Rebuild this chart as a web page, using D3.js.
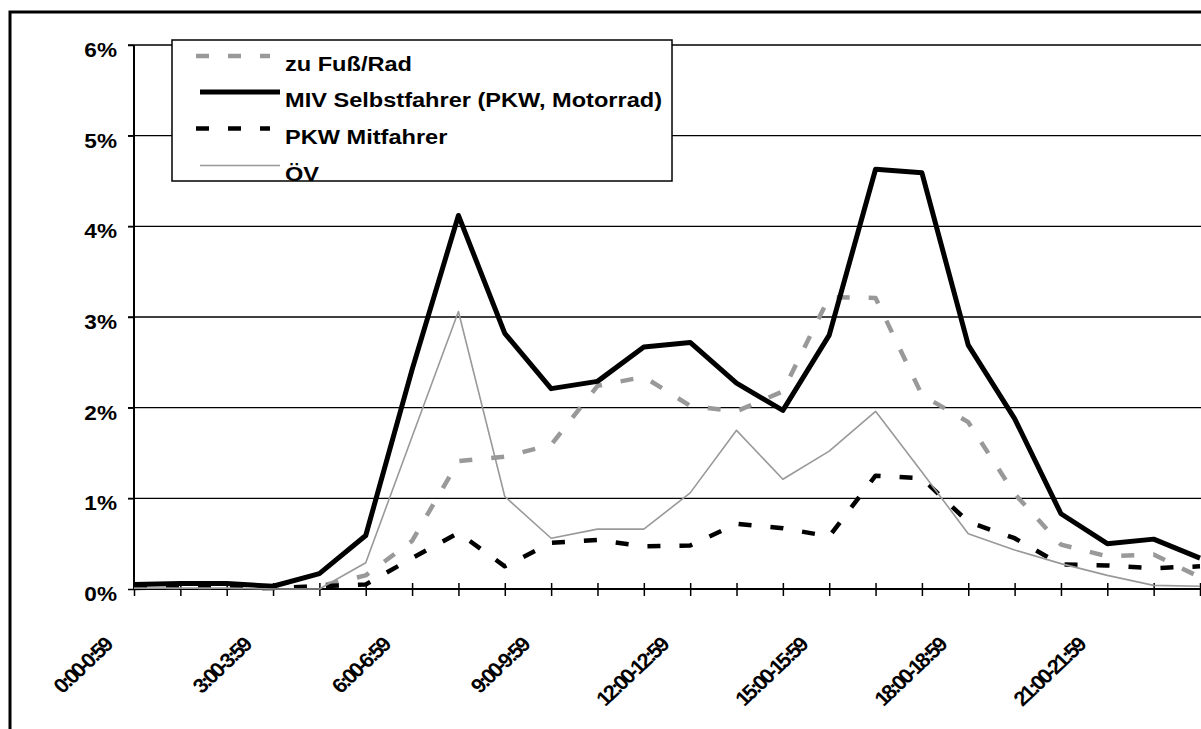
<!DOCTYPE html>
<html>
<head>
<meta charset="utf-8">
<script src="https://cdn.jsdelivr.net/npm/d3@7"></script>
<style>
  html, body { margin: 0; padding: 0; background: #fff; }
  svg { display: block; }
  text { font-family: "Liberation Sans", Arial, sans-serif; font-weight: bold; fill: #000; }
</style>
</head>
<body>
<svg id="chart" width="1201" height="729"></svg>
<script>
// ---- data ----
const hours = ["0:00-0:59","1:00-1:59","2:00-2:59","3:00-3:59","4:00-4:59","5:00-5:59",
  "6:00-6:59","7:00-7:59","8:00-8:59","9:00-9:59","10:00-10:59","11:00-11:59",
  "12:00-12:59","13:00-13:59","14:00-14:59","15:00-15:59","16:00-16:59","17:00-17:59",
  "18:00-18:59","19:00-19:59","20:00-20:59","21:00-21:59","22:00-22:59","23:00-23:59"];
const shownTickLabels = ["0:00-0:59","3:00-3:59","6:00-6:59","9:00-9:59","12:00-12:59","15:00-15:59","18:00-18:59","21:00-21:59"];
const yTicks = [0, 1, 2, 3, 4, 5, 6];
const seriesNames = ["zu Fuß/Rad", "MIV Selbstfahrer (PKW, Motorrad)", "PKW Mitfahrer", "ÖV"];
const zuFussRad = [0.02,0.02,0.02,0.01,0.03,0.15,0.53,1.41,1.46,1.59,2.24,2.34,2.02,1.96,2.18,3.22,3.21,2.14,1.84,1.05,0.49,0.36,0.38,0.13];
const mivSelbst = [0.05,0.06,0.06,0.03,0.17,0.59,2.42,4.12,2.82,2.21,2.29,2.67,2.72,2.27,1.97,2.80,4.63,4.59,2.69,1.88,0.83,0.50,0.55,0.34];
const pkwMit    = [0.01,0.02,0.02,0.01,0.03,0.05,0.34,0.62,0.25,0.51,0.54,0.47,0.48,0.72,0.67,0.58,1.25,1.22,0.74,0.56,0.27,0.26,0.23,0.25];
const oev       = [0.01,0.01,0.01,0.00,0.00,0.29,1.68,3.06,1.02,0.56,0.66,0.66,1.06,1.75,1.21,1.52,1.96,1.29,0.61,0.43,0.28,0.15,0.04,0.03];

// ---- layout ----
const svg = d3.select("#chart");
const x = d3.scalePoint().domain(hours).range([134, 1200]);
const y = d3.scaleLinear().domain([0, 6]).range([589, 45]);

// outer border
svg.append("rect").attr("x", 10).attr("y", 12).attr("width", 1400).attr("height", 1000)
  .attr("fill", "none").attr("stroke", "#000").attr("stroke-width", 3);

// gridlines
svg.append("g").selectAll("line").data(yTicks.filter(d => d > 0)).join("line")
  .attr("x1", 128).attr("x2", 1201)
  .attr("y1", d => y(d)).attr("y2", d => y(d))
  .attr("stroke", "#000").attr("stroke-width", 1.3);

// y axis
const yAxis = svg.append("g").attr("transform", "translate(134,0)")
  .call(d3.axisLeft(y).tickValues(yTicks).tickSize(6).tickFormat(""));
yAxis.select(".domain").attr("stroke", "#000").attr("stroke-width", 2).attr("d", `M0,${y(6)}V${y(0)}`);
yAxis.selectAll(".tick line").attr("stroke", "#000").attr("stroke-width", 1.5);

svg.append("g").selectAll("text").data(yTicks).join("text")
  .attr("text-anchor", "end")
  .attr("font-size", 20)
  .attr("transform", d => `translate(117,${y(d) + 12}) scale(1.13,1)`)
  .text(d => d + "%");

// x axis
const xAxis = svg.append("g").attr("transform", `translate(0,${y(0)})`)
  .call(d3.axisBottom(x).tickSize(7).tickFormat(""));
xAxis.select(".domain").attr("stroke", "#000").attr("stroke-width", 2).attr("d", `M134,0H1201`);
xAxis.selectAll(".tick line").attr("stroke", "#000").attr("stroke-width", 1.5).attr("y1", -6).attr("y2", 7);

svg.append("g").selectAll("text").data(shownTickLabels).join("text")
  .attr("text-anchor", "end")
  .attr("font-size", 20.5)
  .attr("letter-spacing", -2.4)
  .attr("transform", d => `translate(${x(d) - 21},${y(0) + 58}) scale(1.06,1) rotate(-45)`)
  .text(d => d);

// series
const series = [
  { name: seriesNames[0], values: zuFussRad, color: "#999999", width: 4.5, dash: "13,19" },
  { name: seriesNames[1], values: mivSelbst, color: "#000000", width: 5, dash: null },
  { name: seriesNames[2], values: pkwMit, color: "#000000", width: 4.5, dash: "13,19" },
  { name: seriesNames[3], values: oev, color: "#999999", width: 1.6, dash: null }
];
const line = d3.line().x((d, i) => x(hours[i])).y(d => y(d));
series.forEach(s => {
  svg.append("path").datum(s.values)
    .attr("d", line)
    .attr("fill", "none")
    .attr("stroke", s.color)
    .attr("stroke-width", s.width)
    .attr("stroke-linejoin", "round")
    .attr("stroke-dasharray", s.dash);
});

// legend
const lg = svg.append("g");
lg.append("rect").attr("x", 172).attr("y", 40).attr("width", 500).attr("height", 141)
  .attr("fill", "#fff").attr("stroke", "#000").attr("stroke-width", 1.5);
const legendY = [56, 92, 128.5, 165.5];
series.forEach((s, i) => {
  lg.append("line")
    .attr("x1", s.dash ? 196 : 200).attr("x2", s.dash ? 270 : 280)
    .attr("y1", legendY[i]).attr("y2", legendY[i])
    .attr("stroke", s.color).attr("stroke-width", s.width)
    .attr("stroke-dasharray", s.dash);
  lg.append("text")
    .attr("font-size", 20.5)
    .attr("transform", `translate(285,${legendY[i] + 15}) scale(1.15,1)`)
    .text(s.name);
});
</script>
</body>
</html>
